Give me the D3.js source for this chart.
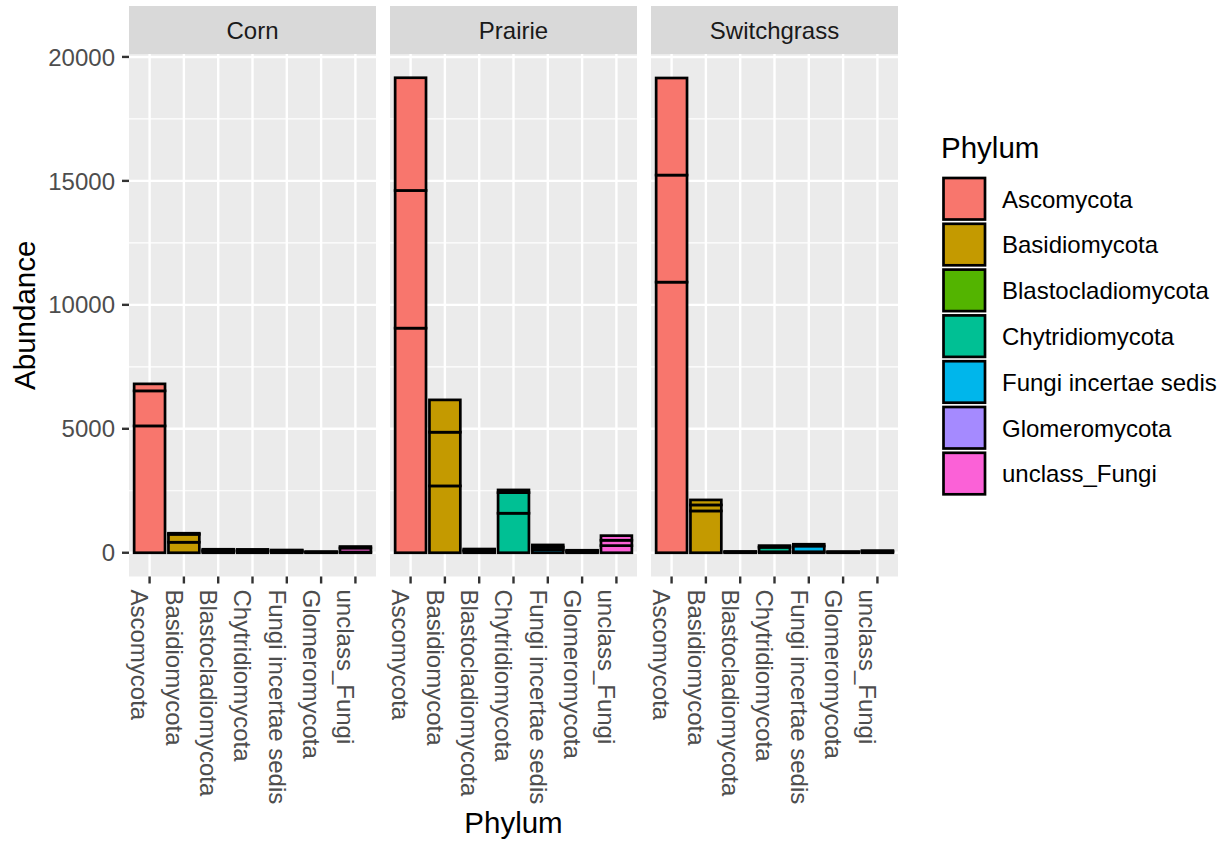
<!DOCTYPE html>
<html>
<head>
<meta charset="utf-8">
<script src="https://cdn.jsdelivr.net/npm/d3@7"></script>
<style>
  html, body { margin: 0; padding: 0; background: #ffffff; }
  svg { display: block; }
  text { font-family: "Liberation Sans", Arial, Helvetica, sans-serif; }
</style>
</head>
<body>
<svg id="chart" width="1226" height="841"></svg>
<script>
// Fungal phyla, in axis / legend order
const phyla = ["Ascomycota", "Basidiomycota", "Blastocladiomycota", "Chytridiomycota",
               "Fungi incertae sedis", "Glomeromycota", "unclass_Fungi"];
const phylumColors = ["#F8766D", "#C49A00", "#53B400", "#00C094", "#00B6EB", "#A58AFF", "#FB61D7"];

// Cropping systems (one facet each)
const sites = ["Corn", "Prairie", "Switchgrass"];

// Abundance per phylum, one value per sample (stacked bottom to top)
const cornCounts = [
  [5117, 1413, 282],
  [424, 320, 43],
  [50, 50, 40],
  [50, 45, 40],
  [40, 40, 30],
  [15, 15, 15],
  [30, 160, 60]
];
const prairieCounts = [
  [9060, 5553, 4547],
  [2696, 2167, 1303],
  [60, 50, 40],
  [1594, 831, 109],
  [120, 110, 85],
  [40, 35, 25],
  [287, 217, 186]
];
const switchgrassCounts = [
  [10916, 4318, 3916],
  [1687, 242, 202],
  [20, 15, 15],
  [40, 180, 67],
  [40, 230, 73],
  [15, 15, 15],
  [30, 30, 25]
];
const countsBySite = [cornCounts, prairieCounts, switchgrassCounts];

const yMajorTicks = [0, 5000, 10000, 15000, 20000];
const yMinorTicks = [2500, 7500, 12500, 17500];

// ---- layout ----
const svg = d3.select("#chart");
const panelLeft = 129, panelWidth = 247, panelGap = 14;
const stripTop = 6, panelTop = 54, panelBottom = 576.5;
const tickFont = 24, titleFont = 29.5;

// Shared y scale with 5% expansion around the data range
const maxTotal = d3.max(countsBySite, site => d3.max(site, s => d3.sum(s)));
const y = d3.scaleLinear()
  .domain([-0.05 * maxTotal, 1.05 * maxTotal])
  .range([panelBottom, panelTop]);

sites.forEach((site, si) => {
  const x0 = panelLeft + si * (panelWidth + panelGap);
  const x = d3.scalePoint().domain(phyla).range([x0, x0 + panelWidth]).padding(0.6);
  const barW = x.step() * 0.9;
  const g = svg.append("g");

  // strip
  g.append("rect").attr("x", x0).attr("y", stripTop)
    .attr("width", panelWidth).attr("height", panelTop - stripTop).attr("fill", "#D9D9D9");
  g.append("text").attr("x", x0 + panelWidth / 2).attr("y", (stripTop + panelTop) / 2)
    .attr("dy", "0.36em").attr("text-anchor", "middle")
    .attr("font-size", tickFont).attr("fill", "#1A1A1A").text(site);

  // panel background
  g.append("rect").attr("x", x0).attr("y", panelTop)
    .attr("width", panelWidth).attr("height", panelBottom - panelTop).attr("fill", "#EBEBEB");

  // grid
  g.selectAll(".minor").data(yMinorTicks).join("line")
    .attr("x1", x0).attr("x2", x0 + panelWidth)
    .attr("y1", d => y(d)).attr("y2", d => y(d))
    .attr("stroke", "#ffffff").attr("stroke-width", 1.2);
  g.selectAll(".major").data(yMajorTicks).join("line")
    .attr("x1", x0).attr("x2", x0 + panelWidth)
    .attr("y1", d => y(d)).attr("y2", d => y(d))
    .attr("stroke", "#ffffff").attr("stroke-width", 2.4);
  g.selectAll(".vgrid").data(phyla).join("line")
    .attr("x1", d => x(d)).attr("x2", d => x(d))
    .attr("y1", panelTop).attr("y2", panelBottom)
    .attr("stroke", "#ffffff").attr("stroke-width", 2.4);

  // stacked bars, one rectangle per sample
  const counts = countsBySite[si];
  phyla.forEach((p, pi) => {
    let acc = 0;
    const segs = counts[pi].map(v => { const s = { lo: acc, hi: acc + v }; acc += v; return s; });
    g.selectAll(null).data(segs).join("rect")
      .attr("x", x(p) - barW / 2).attr("width", barW)
      .attr("y", d => y(d.hi)).attr("height", d => y(d.lo) - y(d.hi))
      .attr("fill", phylumColors[pi])
      .attr("stroke", "#000000").attr("stroke-width", 2.7);
  });

  // x axis ticks and rotated labels
  g.selectAll(".xtick").data(phyla).join("line")
    .attr("x1", d => x(d)).attr("x2", d => x(d))
    .attr("y1", panelBottom).attr("y2", panelBottom + 7)
    .attr("stroke", "#333333").attr("stroke-width", 2.4);
  g.selectAll(".xlab").data(phyla).join("text")
    .attr("transform", d => `translate(${x(d)},${panelBottom + 13}) rotate(90)`)
    .attr("dy", "0.76em").attr("text-anchor", "start")
    .attr("font-size", tickFont).attr("fill", "#4D4D4D").text(d => d);
});

// y axis (left panel only)
const yAxis = svg.append("g");
yAxis.selectAll("line").data(yMajorTicks).join("line")
  .attr("x1", panelLeft - 7).attr("x2", panelLeft)
  .attr("y1", d => y(d)).attr("y2", d => y(d))
  .attr("stroke", "#333333").attr("stroke-width", 2.4);
yAxis.selectAll("text").data(yMajorTicks).join("text")
  .attr("x", panelLeft - 14).attr("y", d => y(d)).attr("dy", "0.36em")
  .attr("text-anchor", "end").attr("font-size", tickFont).attr("fill", "#4D4D4D")
  .text(d => d);

// axis titles
const plotRight = panelLeft + 3 * panelWidth + 2 * panelGap;
svg.append("text").attr("x", (panelLeft + plotRight) / 2).attr("y", 833)
  .attr("text-anchor", "middle").attr("font-size", titleFont).attr("fill", "#000")
  .text("Phylum");
svg.append("text").attr("transform", `translate(35,${(panelTop + panelBottom) / 2}) rotate(-90)`)
  .attr("text-anchor", "middle").attr("font-size", titleFont).attr("fill", "#000")
  .text("Abundance");

// legend
const legend = svg.append("g");
const keyTop = 176.5, keyPitch = 45.8, keyX = 943.5, keySize = 41.5;
legend.append("text").attr("x", 941).attr("y", 158)
  .attr("font-size", titleFont).attr("fill", "#000").text("Phylum");
const items = legend.selectAll(".item").data(phyla).join("g")
  .attr("transform", (d, i) => `translate(0,${keyTop + i * keyPitch})`);
items.append("rect").attr("x", keyX).attr("y", 1.5)
  .attr("width", keySize).attr("height", keySize)
  .attr("fill", (d, i) => phylumColors[i]).attr("stroke", "#000").attr("stroke-width", 2.7);
items.append("text").attr("x", 1002).attr("y", 22.5).attr("dy", "0.36em")
  .attr("font-size", tickFont).attr("fill", "#000").text(d => d);
</script>
</body>
</html>
